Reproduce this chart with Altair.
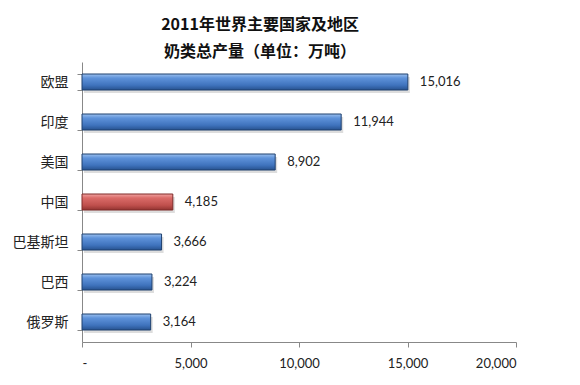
import altair as alt
import pandas as pd

regions = ["欧盟", "印度", "美国", "中国", "巴基斯坦", "巴西", "俄罗斯"]
values = [15016, 11944, 8902, 4185, 3666, 3224, 3164]
highlight = ["no", "no", "no", "yes", "no", "no", "no"]
title_lines = ["2011年世界主要国家及地区", "奶类总产量（单位：万吨）"]
x_ticks = [0, 5000, 10000, 15000, 20000]

df = pd.DataFrame({"region": regions, "value": values, "hl": highlight})

blue_grad = alt.Gradient(
    gradient="linear", x1=0, x2=0, y1=0, y2=1,
    stops=[alt.GradientStop(offset=0, color="#9cc0ee"),
           alt.GradientStop(offset=0.25, color="#5f93da"),
           alt.GradientStop(offset=0.7, color="#3f73bd"),
           alt.GradientStop(offset=1, color="#27528f")])
red_grad = alt.Gradient(
    gradient="linear", x1=0, x2=0, y1=0, y2=1,
    stops=[alt.GradientStop(offset=0, color="#f0a3a1"),
           alt.GradientStop(offset=0.25, color="#da6b68"),
           alt.GradientStop(offset=0.7, color="#c0504d"),
           alt.GradientStop(offset=1, color="#923431")])

cjk = "Noto Sans CJK SC"
numfont = "Lato"

y_enc = alt.Y("region:N", sort=regions, title=None,
              scale=alt.Scale(paddingInner=0.6, paddingOuter=0.3),
              axis=alt.Axis(labelFont=cjk, labelFontSize=14, labelColor="#222",
                            domainColor="#888", tickColor="#888", tickSize=5,
                            tickBand="extent", labelPadding=9))
x_enc = alt.X("value:Q", title=None,
              scale=alt.Scale(domain=[0, 20000], nice=False),
              axis=alt.Axis(values=x_ticks, grid=False, domainColor="#888",
                            tickColor="#888", tickSize=5, labelFont=numfont,
                            labelFontSize=13, labelColor="#222", labelPadding=10,
                            labelExpr="datum.value == 0 ? '-' : format(datum.value, ',')"))

base = alt.Chart(df)

shadow = base.mark_bar(fill="#bbbbbb", opacity=0.5, xOffset=2, yOffset=3).encode(
    x=x_enc, y=y_enc)
blue = base.transform_filter("datum.hl == 'no'").mark_bar(
    fill=blue_grad, stroke="#1f416f", strokeWidth=1).encode(x=x_enc, y=y_enc)
red = base.transform_filter("datum.hl == 'yes'").mark_bar(
    fill=red_grad, stroke="#7e2b29", strokeWidth=1).encode(x=x_enc, y=y_enc)
labels = base.mark_text(align="left", baseline="middle", dx=12, font=numfont,
                        fontSize=13, color="#222").encode(
    x=x_enc, y=y_enc, text=alt.Text("value:Q", format=","))

chart = alt.layer(shadow, blue, red, labels).properties(
    width=434, height=280,
    background="white",
    title=alt.TitleParams(text=title_lines, anchor="middle", dx=-39,
                          font=cjk, fontSize=16, fontWeight="bold",
                          color="#111", lineHeight=27, offset=-5),
    autosize=alt.AutoSizeParams(type="none"),
    padding={"left": 74, "top": 54, "right": 40, "bottom": 30},
).configure_view(stroke="transparent", strokeWidth=0)

chart.save("out.html", embed_options={"renderer": "svg", "actions": False})
